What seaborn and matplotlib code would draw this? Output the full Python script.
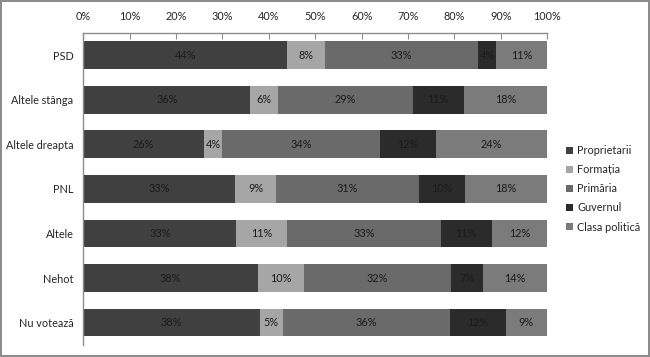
import numpy as np
import pandas as pd
import seaborn as sns
import matplotlib.pyplot as plt
from matplotlib.ticker import PercentFormatter

# -----------------------------
# DATA
# -----------------------------
groups = ["PSD", "Altele stânga", "Altele dreapta", "PNL", "Altele", "Nehot", "Nu votează"]
series = ["Proprietarii", "Formația", "Primăria", "Guvernul", "Clasa politică"]

proprietarii = [44, 36, 26, 33, 33, 38, 38]
formatia = [8, 6, 4, 9, 11, 10, 5]
primaria = [33, 29, 34, 31, 33, 32, 36]
guvernul = [4, 11, 12, 10, 11, 7, 12]
clasa_politica = [11, 18, 24, 18, 12, 14, 9]

colors = ["#404040", "#a6a6a6", "#6a6a6a", "#2b2b2b", "#7b7b7b"]

df = pd.DataFrame(
    {"Proprietarii": proprietarii, "Formația": formatia, "Primăria": primaria,
     "Guvernul": guvernul, "Clasa politică": clasa_politica},
    index=groups,
)

# 100% stacked -> normalise each row
share = df.div(df.sum(axis=1), axis=0) * 100
right = share.cumsum(axis=1)
left = right - share

# -----------------------------
# PLOT
# -----------------------------
sns.set_style("white")
plt.rcParams["font.family"] = ["Lato", "DejaVu Sans"]
fs = 7.8

fig = plt.figure(figsize=(6.5, 3.57), dpi=100)
fig.patch.set_edgecolor("#8c8c8c")
fig.patch.set_linewidth(1.5)
ax = fig.add_axes([0.128, 0.034, 0.714, 0.874])

# draw from the last segment backwards so earlier ones sit on top
for s, c in reversed(list(zip(series, colors))):
    sns.barplot(x=right[s].values, y=groups, color=c, width=0.62,
                orient="h", ax=ax, saturation=1, label=s, linewidth=0)

for i, g in enumerate(groups):
    for s in series:
        ax.text(left.loc[g, s] + share.loc[g, s] / 2, i, f"{df.loc[g, s]}%",
                ha="center", va="center", fontsize=fs, color="#1a1a1a")

ax.set_xlim(0, 100)
ax.set_ylim(len(groups) - 0.5, -0.5)
ax.set_xticks(np.arange(0, 101, 10))
ax.xaxis.set_major_formatter(PercentFormatter(decimals=0))
ax.xaxis.tick_top()
ax.tick_params(axis="x", direction="in", length=4, color="#8c8c8c",
               labelsize=fs, pad=8)
ax.set_yticks(range(len(groups)))
ax.set_yticklabels(groups)
ax.set_yticks(np.arange(-0.5, len(groups)), minor=True)
ax.tick_params(axis="y", which="major", length=0, labelsize=fs, pad=7)
ax.tick_params(axis="y", which="minor", length=4, color="#8c8c8c", direction="out")
ax.set_xlabel("")
ax.set_ylabel("")

for side in ["right", "bottom"]:
    ax.spines[side].set_visible(False)
for side in ["top", "left"]:
    ax.spines[side].set_color("#8c8c8c")
    ax.spines[side].set_linewidth(1)

handles, labels = ax.get_legend_handles_labels()
order = [labels.index(s) for s in series]
ax.legend([handles[k] for k in order], series, loc="center left",
          bbox_to_anchor=(1.02, 0.5), frameon=False, fontsize=fs,
          handlelength=0.6, handleheight=0.6, handletextpad=0.4,
          labelspacing=0.75)

fig.savefig("out.png", dpi=100, edgecolor=fig.get_edgecolor())
